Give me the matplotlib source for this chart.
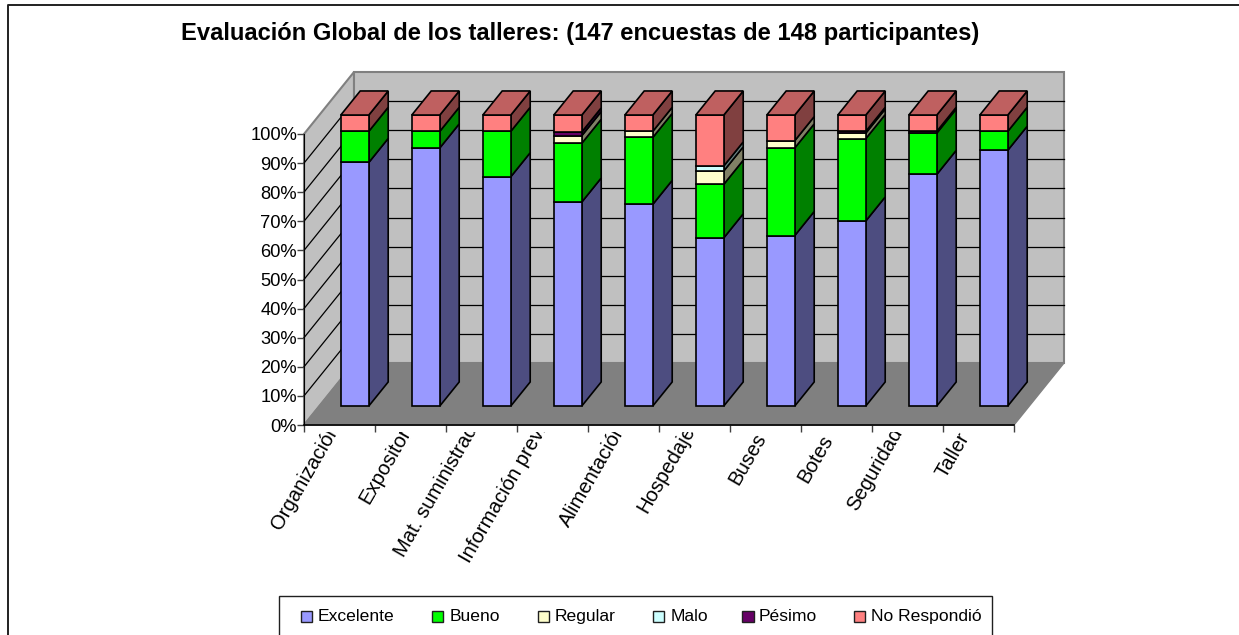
import matplotlib
matplotlib.use('Agg')
import matplotlib.pyplot as plt
from matplotlib.lines import Line2D
from matplotlib.patches import Rectangle
from matplotlib.transforms import Bbox
import numpy as np

categorias = ['Organización', 'Expositor', 'Mat. suministrado', 'Información previa', 'Alimentación',
              'Hospedaje', 'Buses', 'Botes', 'Seguridad', 'Taller']
excelente = [83.7, 88.7, 78.8, 70.1, 69.3, 57.8, 58.6, 63.6, 79.6, 87.9]
bueno = [10.7, 5.7, 15.6, 20.2, 23.0, 18.4, 30.1, 28.3, 14.2, 6.5]
regular = [0, 0, 0, 2.6, 2.1, 4.6, 2.5, 1.9, 0, 0]
malo = [0, 0, 0, 0, 0, 1.7, 0, 0, 0, 0]
pesimo = [0, 0, 0, 1.3, 0, 0, 0, 0.6, 0.6, 0]
no_respondio = [5.6, 5.6, 5.6, 5.8, 5.6, 17.5, 8.8, 5.6, 5.6, 5.6]

nombres = ['Excelente', 'Bueno', 'Regular', 'Malo', 'Pésimo', 'No Respondió']
series = [excelente, bueno, regular, malo, pesimo, no_respondio]
colores = ['#9999FF', '#00FF00', '#FFFFCC', '#CCFFFF', '#660066', '#FF8080']
laterales = ['#4D4D80', '#008000', '#808066', '#668080', '#330033', '#804040']
techo = '#BF6060'

W, H = 1239, 635
plt.rcParams['font.family'] = ['Liberation Sans', 'DejaVu Sans']

fig = plt.figure(figsize=(W / 100, H / 100), dpi=100)
# the axes is the front plane of the 3D box, everything else is sheared off it
x0, x1, y0, y1 = 304, 1014, 425, 134
ax = fig.add_axes([x0 / W, 1 - y0 / H, (x1 - x0) / W, (y0 - y1) / H])
ax.set_xlim(0, 10)
ax.set_ylim(0, 100)
ax.patch.set_visible(False)

DX = 50 / 71.0           # depth shift in categories
DY = 62 / 2.91           # depth shift in percent


def proj(x, y, d):
    return x + d * DX, y + d * DY


def cara(puntos, color, edge='black', lw=1.2, z=2):
    xs, ys = zip(*[proj(*p) for p in puntos])
    ax.fill(xs, ys, facecolor=color, edgecolor=edge, linewidth=lw, clip_on=False, zorder=z, joinstyle='miter')


# walls and floor
cara([(0, 0, 0), (0, 0, 1), (0, 100, 1), (0, 100, 0)], '#C0C0C0', '#808080', 1.5, 1)
cara([(0, 0, 1), (10, 0, 1), (10, 100, 1), (0, 100, 1)], '#C0C0C0', '#808080', 1.5, 1)
for p in range(10, 100, 10):
    ax.plot(*zip(proj(0, p, 0), proj(0, p, 1)), color='black', lw=0.9, clip_on=False, zorder=1.5)
    ax.plot(*zip(proj(0, p, 1), proj(10, p, 1)), color='black', lw=0.9, clip_on=False, zorder=1.5)
cara([(0, 0, 0), (10, 0, 0), (10, 0, 1), (0, 0, 1)], '#808080', '#808080', 1.0, 1.6)

# bars
ancho = 28 / 71.0
d0, d1 = 0.306, 0.694
for i in range(len(categorias)):
    izq = i + 0.5 - ancho / 2
    der = izq + ancho
    base = 0
    for j, s in enumerate(series):
        v = s[i]
        if v == 0:
            continue
        top = base + v
        cara([(der, base, d0), (der, base, d1), (der, top, d1), (der, top, d0)], laterales[j])
        cara([(izq, base, d0), (der, base, d0), (der, top, d0), (izq, top, d0)], colores[j])
        base = top
    cara([(izq, base, d0), (der, base, d0), (der, base, d1), (izq, base, d1)], techo)

# axes
for lado in ['top', 'right']:
    ax.spines[lado].set_visible(False)
ax.spines['left'].set_color('black')
ax.spines['left'].set_zorder(3)
ax.spines['bottom'].set_color('black')
ax.spines['bottom'].set_linewidth(1.2)
ax.spines['bottom'].set_zorder(3)
ax.set_yticks(np.arange(0, 101, 10))
ax.set_yticklabels([f'{p}%' for p in range(0, 101, 10)], fontsize=13.2)
ax.tick_params(axis='y', length=5, width=1, color='#404040', pad=0)
ax.set_xticks(np.arange(0, 11))
ax.set_xticklabels([])
ax.tick_params(axis='x', length=5, width=1, color='#404040')

# labels are cut off near the axis, as in the original
inicio = [(281, 531), (369, 505), (404, 558), (470, 564), (569, 528), (647, 514), (738, 486), (807, 484), (857, 512), (945, 479)]
caja = Bbox([[0, 0], [W, H - 431.5]])
for nombre, (px, py) in zip(categorias, inicio):
    t = fig.text(px / W, 1 - py / H, nombre, rotation=60, rotation_mode='anchor', ha='left', va='baseline',
                 fontsize=14.6, color='black')
    t.set_clip_box(caja)
    t.set_clip_on(True)

fig.text(580 / W, 1 - 33.5 / H, 'Evaluación Global de los talleres: (147 encuestas de 148 participantes)',
         ha='center', va='center', fontsize=17.1, fontweight='bold')

# outer frame, only top and left reach into the picture
fig.add_artist(Line2D([7.5 / W, 7.5 / W, 1], [0, 1 - 5 / H, 1 - 5 / H], transform=fig.transFigure,
                      color='#202020', linewidth=1.4))

# legend
fig.add_artist(Rectangle((279 / W, -0.01), 712.5 / W, 1 - 596 / H + 0.01, transform=fig.transFigure,
                         facecolor='white', edgecolor='#202020', linewidth=1))
cuadros = [300.5, 432, 537.5, 653, 742, 853.5]
textos = [318, 450, 555, 671, 759, 871]
for nombre, color, px, tx in zip(nombres, colores, cuadros, textos):
    fig.add_artist(Rectangle((px / W, 1 - 622 / H), 11.5 / W, 11.5 / H, transform=fig.transFigure,
                             facecolor=color, edgecolor='#202020', linewidth=1))
    fig.text(tx / W, 1 - 621 / H, nombre, ha='left', va='baseline', fontsize=12.6)

fig.savefig('out.png', dpi=100)
